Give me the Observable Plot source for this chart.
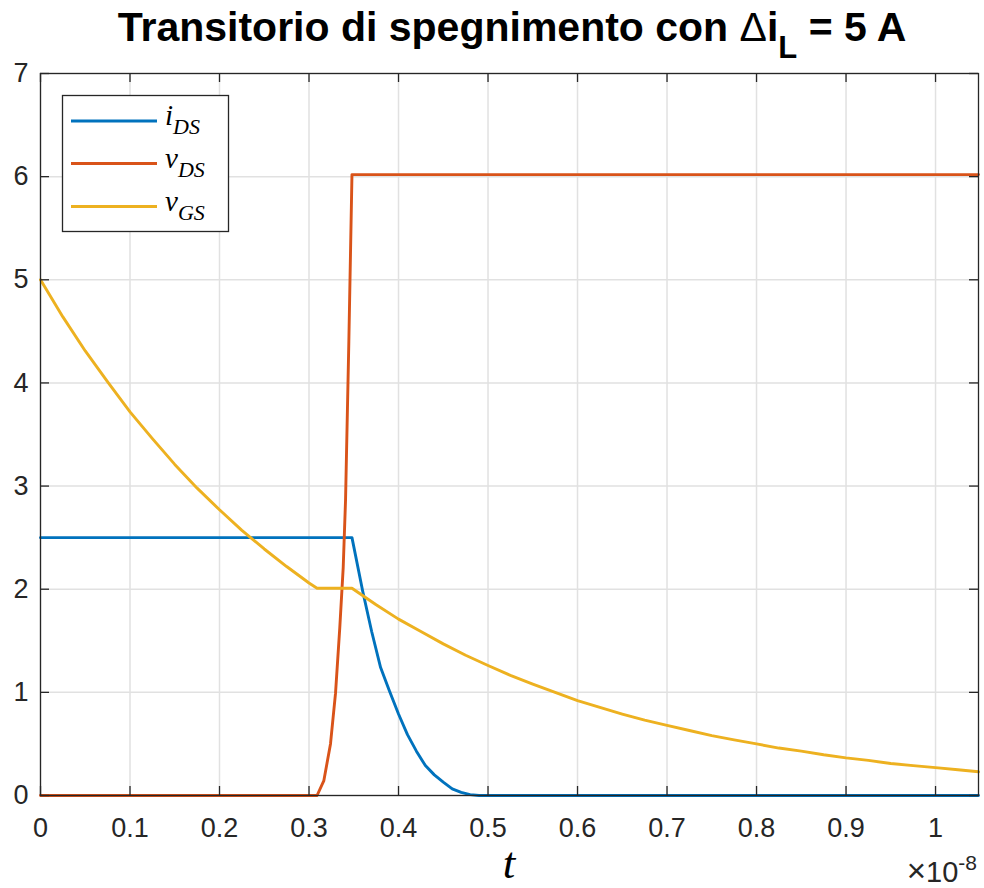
<!DOCTYPE html>
<html>
<head>
<meta charset="utf-8">
<script src="https://cdn.jsdelivr.net/npm/d3@7"></script>
<script src="https://cdn.jsdelivr.net/npm/@observablehq/plot@0.6"></script>
<style>
  html, body { margin: 0; padding: 0; background: #ffffff; }
</style>
</head>
<body>
<div id="chart"></div>
<script>
// ---- data (time in units of 1e-8 s) ----
const xTicks = [0, 0.1, 0.2, 0.3, 0.4, 0.5, 0.6, 0.7, 0.8, 0.9, 1];
const yTicks = [0, 1, 2, 3, 4, 5, 6, 7];
const xDomain = [0, 1.048];
const yDomain = [0, 7];

const tIds = [0, 0.31, 0.348, 0.36, 0.37, 0.38, 0.39, 0.40, 0.41, 0.42, 0.43, 0.44, 0.45, 0.46, 0.47, 0.48, 0.49, 1.048];
const iDS  = [2.5, 2.5, 2.5, 1.98, 1.59, 1.24, 1.01, 0.79, 0.59, 0.43, 0.29, 0.2, 0.13, 0.065, 0.03, 0.008, 0, 0];

const tVds = [0, 0.309, 0.3166, 0.324, 0.3296, 0.3344, 0.3382, 0.3408, 0.3445, 0.348, 1.048];
const vDS  = [0, 0, 0.145, 0.50, 0.99, 1.63, 2.21, 2.86, 4.4, 6.02, 6.02];

const tVgs = [0, 0.025, 0.05, 0.075, 0.1, 0.125, 0.15, 0.175, 0.2, 0.225, 0.25, 0.275, 0.3, 0.309,
              0.348, 0.375, 0.4, 0.425, 0.45, 0.475, 0.5, 0.525, 0.55, 0.575, 0.6, 0.625, 0.65, 0.675,
              0.7, 0.725, 0.75, 0.775, 0.8, 0.825, 0.85, 0.875, 0.9, 0.925, 0.95, 0.975, 1.0, 1.025, 1.048];
const vGS  = [5.00, 4.64, 4.31, 4.01, 3.72, 3.46, 3.21, 2.98, 2.77, 2.57, 2.39, 2.22, 2.06, 2.01,
              2.01, 1.85, 1.71, 1.59, 1.47, 1.36, 1.26, 1.165, 1.08, 1.00, 0.92, 0.855, 0.79, 0.73,
              0.68, 0.63, 0.58, 0.54, 0.50, 0.46, 0.43, 0.395, 0.365, 0.34, 0.31, 0.29, 0.27, 0.25, 0.23];

const seriesNames = ["i", "v", "v"];
const seriesSubs = ["DS", "DS", "GS"];
const seriesColors = ["#0072BD", "#D95319", "#EDB120"];

const titleMain = "Transitorio di spegnimento con ";
const titleDelta = "\u0394";
const titleVar = "i";
const titleSub = "L";
const titleRest = " = 5 A";
const xLabel = "t";
const xExpBase = "\u00D710";
const xExp = "-8";

// ---- tables ----
const idsData = tIds.map((t, i) => ({t, v: iDS[i]}));
const vdsData = tVds.map((t, i) => ({t, v: vDS[i]}));
const vgsData = tVgs.map((t, i) => ({t, v: vGS[i]}));

// ---- layout ----
const W = 984, H = 888;
const mT = 73, mL = 40, mR = 6, mB = 93;
const fh = H - mT - mB;
const fw = W - mL - mR;
const TK = 9;
const axisColor = "#262626";
const gridColor = "#e1e1e1";
const LW = 2.9;

const plot = Plot.plot({
  width: W,
  height: H,
  marginTop: mT,
  marginLeft: mL,
  marginRight: mR,
  marginBottom: mB,
  x: {domain: xDomain, label: null},
  y: {domain: yDomain, label: null},
  style: {fontFamily: "'Liberation Sans', Arial, Helvetica, sans-serif", background: "#ffffff", color: axisColor},
  marks: [
    Plot.gridX(xTicks, {stroke: gridColor, strokeOpacity: 1, strokeWidth: 1.5}),
    Plot.gridY(yTicks, {stroke: gridColor, strokeOpacity: 1, strokeWidth: 1.5}),
    Plot.line(idsData, {x: "t", y: "v", stroke: seriesColors[0], strokeWidth: LW}),
    Plot.line(vdsData, {x: "t", y: "v", stroke: seriesColors[1], strokeWidth: LW}),
    Plot.line(vgsData, {x: "t", y: "v", stroke: seriesColors[2], strokeWidth: LW}),
    Plot.frame({stroke: axisColor, strokeWidth: 1.3}),
    Plot.tickX(xTicks, {x: d => d, insetTop: fh - TK, stroke: axisColor, strokeWidth: 1.3}),
    Plot.tickX(xTicks, {x: d => d, insetBottom: fh - TK, stroke: axisColor, strokeWidth: 1.3}),
    Plot.tickY(yTicks, {y: d => d, insetRight: fw - TK, stroke: axisColor, strokeWidth: 1.3}),
    Plot.tickY(yTicks, {y: d => d, insetLeft: fw - TK, stroke: axisColor, strokeWidth: 1.3}),
    Plot.axisX(xTicks, {tickSize: 0, tickPadding: 22, fontSize: 27, tickFormat: d => String(d), label: null, fill: axisColor}),
    Plot.axisY(yTicks, {tickSize: 0, tickPadding: 12, fontSize: 27, tickFormat: d => String(d), label: null, fill: axisColor})
  ]
});

document.getElementById("chart").appendChild(plot);

const svg = d3.select(plot);

// title
const title = svg.append("text")
  .attr("x", 512).attr("y", 41)
  .attr("text-anchor", "middle")
  .attr("fill", "#000")
  .style("font-family", "'Liberation Sans', Arial, Helvetica, sans-serif")
  .style("font-weight", "bold")
  .style("font-size", "41px");
title.append("tspan").text(titleMain);
title.append("tspan").style("font-weight", "normal").text(titleDelta);
title.append("tspan").text(titleVar);
title.append("tspan").attr("dy", 17).style("font-size", "31px").text(titleSub);
title.append("tspan").attr("dy", -17).text(titleRest);

// x label
svg.append("text")
  .attr("x", 509).attr("y", 878)
  .attr("text-anchor", "middle")
  .attr("fill", "#000")
  .style("font-family", "'Liberation Serif', 'Times New Roman', serif")
  .style("font-style", "italic")
  .style("font-size", "45px")
  .text(xLabel);

// exponent
const ex = svg.append("text")
  .attr("x", 977).attr("y", 882)
  .attr("text-anchor", "end")
  .attr("fill", axisColor)
  .style("font-family", "'Liberation Sans', Arial, Helvetica, sans-serif")
  .style("font-size", "29px");
ex.append("tspan").style("font-size", "33px").text(xExpBase.charAt(0));
ex.append("tspan").text(xExpBase.slice(1));
ex.append("tspan").attr("dy", -12).style("font-size", "21px").text(xExp);

// legend
const lg = svg.append("g");
lg.append("rect")
  .attr("x", 62.5).attr("y", 95.5).attr("width", 166).attr("height", 136)
  .attr("fill", "#fff").attr("stroke", axisColor).attr("stroke-width", 1.3);
const rowY = [121, 163.5, 206.5];
seriesNames.forEach((n, i) => {
  lg.append("line")
    .attr("x1", 71).attr("x2", 157).attr("y1", rowY[i]).attr("y2", rowY[i])
    .attr("stroke", seriesColors[i]).attr("stroke-width", LW);
  const t = lg.append("text")
    .attr("x", 165).attr("y", rowY[i] + 4)
    .attr("text-anchor", "start")
    .attr("fill", "#000")
    .style("font-family", "'Liberation Serif', 'Times New Roman', serif")
    .style("font-style", "italic")
    .style("font-size", "29px");
  t.append("tspan").text(n);
  t.append("tspan").attr("dy", 9).style("font-size", "22px").text(seriesSubs[i]);
});
</script>
</body>
</html>
